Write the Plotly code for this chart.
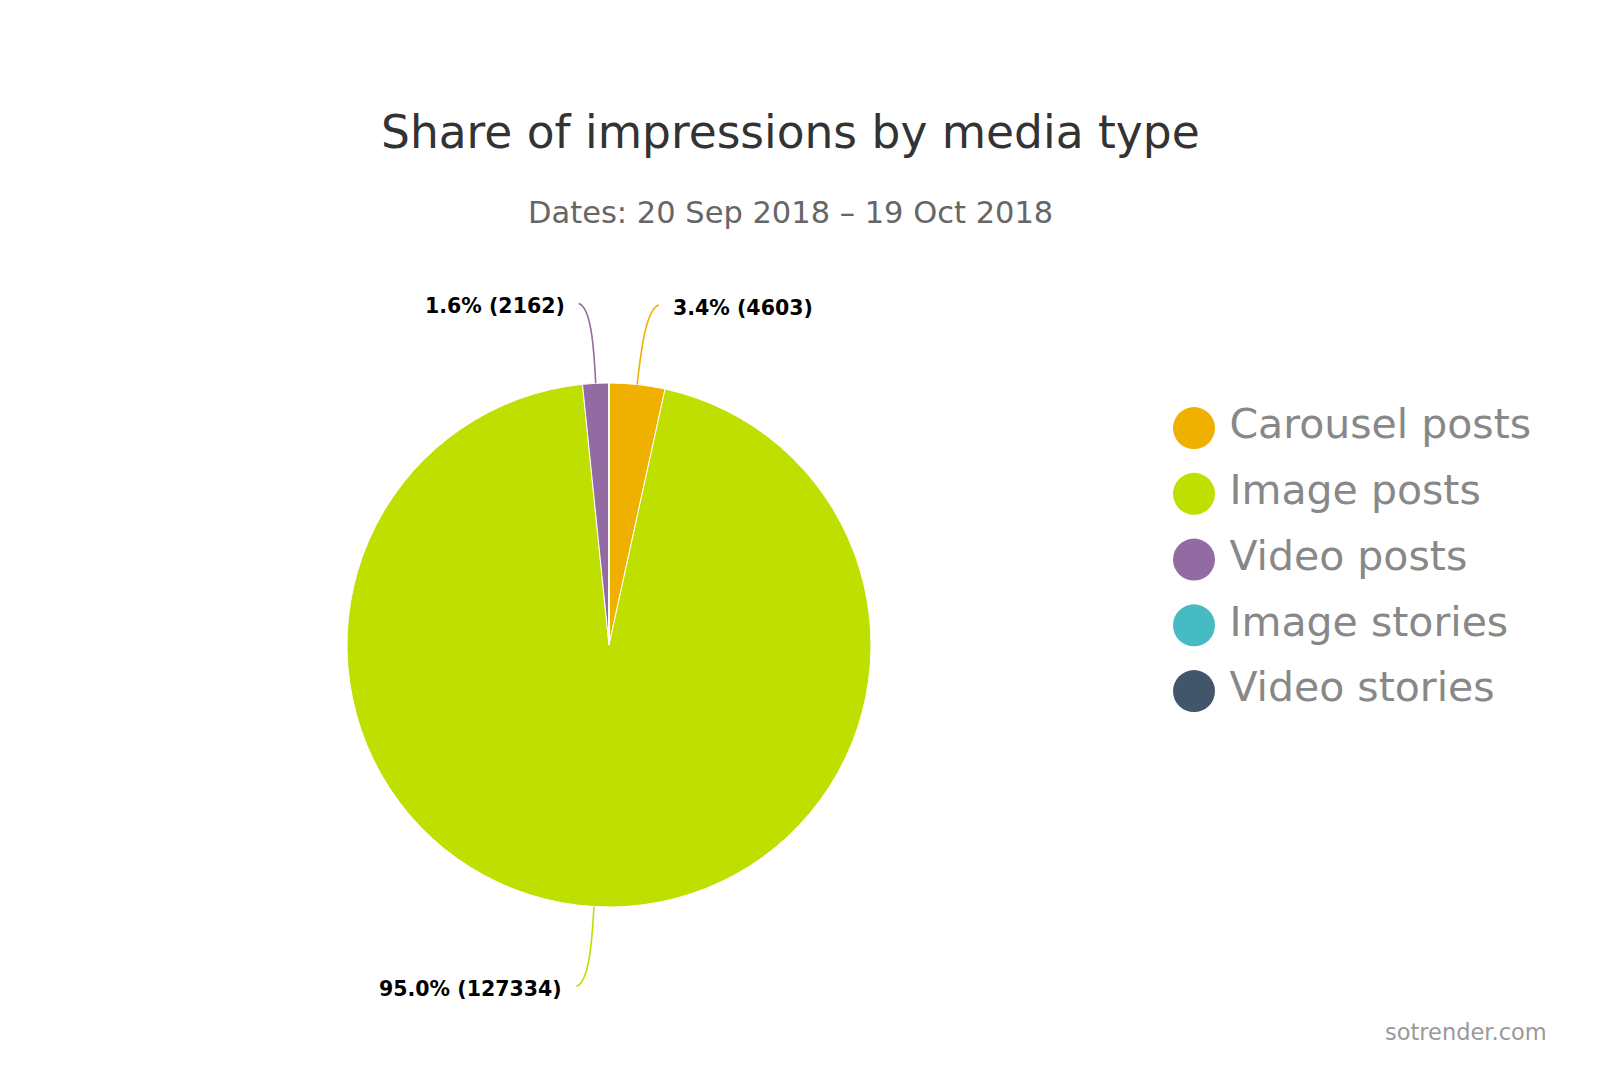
import math
import plotly.graph_objects as go

categories = ["Carousel posts", "Image posts", "Video posts", "Image stories", "Video stories"]
impressions = [4603, 127334, 2162, 0, 0]
colors = ["#F0B000", "#BEDF00", "#926BA2", "#46BBC3", "#41556B"]

W, H = 1600, 1067
CX, CY, R = 601, 637, 262   # pie centre / radius in px (from top-left)

total = sum(impressions)

fig = go.Figure()

fig.add_trace(go.Pie(
    labels=categories, values=impressions,
    sort=False, direction="clockwise", rotation=0,
    marker=dict(colors=colors, line=dict(color="white", width=1)),
    textinfo="none",
    domain=dict(x=[(CX - R) / W, (CX + R) / W], y=[(H - CY - R) / H, (H - CY + R) / H]),
    showlegend=False, hoverinfo="label+value",
))

# legend drawn as big circle markers
fig.add_trace(go.Scatter(
    x=[0] * len(categories), y=list(range(len(categories)))[::-1],
    mode="markers+text", text=["\u2009" + c for c in categories], textposition="middle right",
    marker=dict(size=42, color=colors),
    textfont=dict(family="DejaVu Sans", size=41, color="#888888"),
    showlegend=False, hoverinfo="skip", cliponaxis=False,
))

# data labels with curved connectors, placed from the slice angles
shapes = []
annotations = []
cum = 0
for name, v, col in zip(categories, impressions, colors):
    if v == 0:
        continue
    mid = (cum + v / 2) / total * 2 * math.pi
    cum += v
    ux, uy = math.sin(mid), -math.cos(mid)
    side = 1 if ux >= 0 else -1
    x0, y0 = CX + R * ux, CY + R * uy
    x1 = CX + (R + 80) * ux + side * 13
    y1 = CY + (R + 80) * uy
    c1 = (CX + (R + 40) * ux, CY + (R + 40) * uy)
    c2 = (x1 - side * 12, y1 - uy * 4)
    shapes.append(dict(
        type="path", xref="x2", yref="y2",
        path=f"M {x0:.1f} {y0:.1f} C {c1[0]:.1f} {c1[1]:.1f} {c2[0]:.1f} {c2[1]:.1f} {x1:.1f} {y1:.1f}",
        line=dict(color=col, width=1.6),
    ))
    annotations.append(dict(
        text=f"<b>{v / total * 100:.1f}% ({v})</b>", x=x1 + side * 12, y=y1 + 3,
        xref="x2", yref="y2", xanchor="left" if side > 0 else "right", yanchor="middle",
        showarrow=False, font=dict(family="DejaVu Sans", size=20.5, color="black"),
    ))

annotations += [
    dict(text="Share of impressions by media type", x=0.489, y=1 - 125 / H,
         xref="paper", yref="paper", showarrow=False, yanchor="middle",
         font=dict(family="DejaVu Sans", size=45.5, color="#333333")),
    dict(text="Dates: 20 Sep 2018 – 19 Oct 2018", x=0.489, y=1 - 204 / H,
         xref="paper", yref="paper", showarrow=False, yanchor="middle",
         font=dict(family="DejaVu Sans", size=30.5, color="#666666")),
    dict(text="sotrender.com", x=1541 / W, y=1 - 1024 / H, xanchor="right", yanchor="middle",
         xref="paper", yref="paper", showarrow=False,
         font=dict(family="DejaVu Sans", size=22.5, color="#999999")),
]

fig.update_layout(
    width=W, height=H,
    paper_bgcolor="white", plot_bgcolor="rgba(0,0,0,0)",
    margin=dict(l=0, r=0, t=0, b=0),
    xaxis=dict(domain=[0.7, 1.0], range=[-0.55, 3.45], visible=False),
    yaxis=dict(domain=[0.3, 0.7], range=[-0.97, 5.52], visible=False),
    xaxis2=dict(domain=[0, 1], range=[0, W], visible=False, anchor="y2"),
    yaxis2=dict(domain=[0, 1], range=[H, 0], visible=False, anchor="x2"),
    shapes=shapes,
    annotations=annotations,
)

fig.write_html("out.html")
